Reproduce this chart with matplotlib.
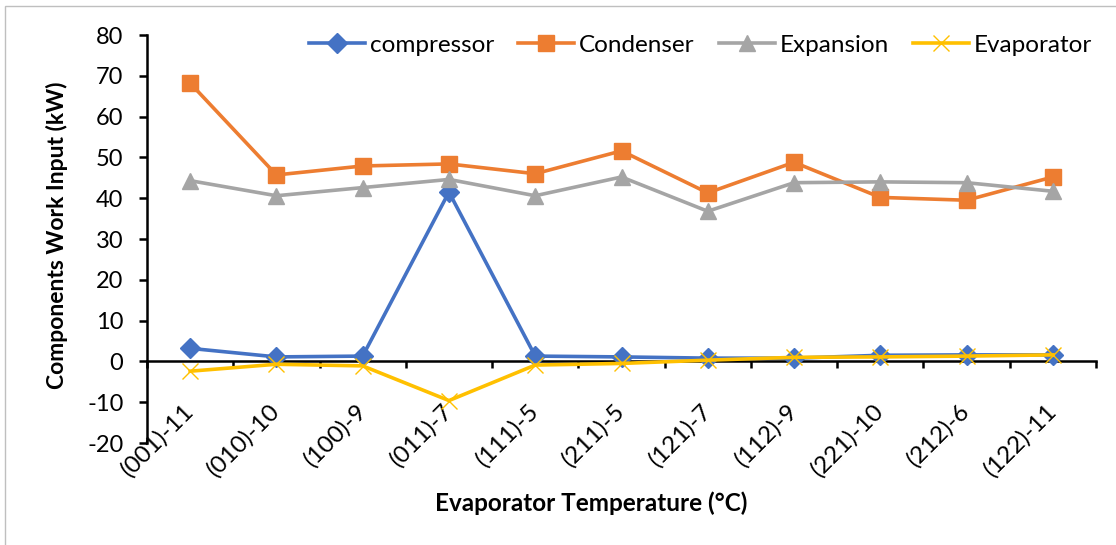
import matplotlib
matplotlib.use("Agg")
import matplotlib.pyplot as plt
import matplotlib.transforms as mtransforms
from matplotlib.patches import Rectangle

plt.rcParams['font.family'] = ['Lato', 'DejaVu Sans']
plt.rcParams['axes.unicode_minus'] = False

categories = ["(001)-11", "(010)-10", "(100)-9", "(011)-7", "(111)-5", "(211)-5",
              "(121)-7", "(112)-9", "(221)-10", "(212)-6", "(122)-11"]
compressor = [3.2, 1.1, 1.3, 41.5, 1.3, 1.1, 0.8, 0.8, 1.5, 1.6, 1.6]
condenser = [68.2, 45.7, 47.9, 48.4, 46.0, 51.6, 41.3, 48.8, 40.2, 39.5, 45.2]
expansion = [44.3, 40.6, 42.6, 44.6, 40.6, 45.2, 36.8, 43.8, 44.0, 43.8, 41.7]
evaporator = [-2.4, -0.7, -1.1, -9.6, -0.9, -0.5, 0.3, 1.0, 1.1, 1.3, 1.6]
y_ticks = [-20, -10, 0, 10, 20, 30, 40, 50, 60, 70, 80]

W, H = 1116, 545
L, R, T, B = 147, 1096, 35, 443
fig = plt.figure(figsize=(W / 100, H / 100), dpi=100)
ax = fig.add_axes([L / W, 1 - B / H, (R - L) / W, (B - T) / H])


def ax_x(px):
    return (px - L) / (R - L)


def ax_y(py):
    return (B - py) / (B - T)


# thin grey frame around the chart area
fig.patches.append(Rectangle((5 / W, -0.1), 1.2, 1 - 6 / H + 0.1, transform=fig.transFigure,
                             fill=False, edgecolor='#BFBFBF', linewidth=1.0))

x = range(len(categories))
series = [
    ("compressor", compressor, '#4472C4', dict(marker='D', markersize=10)),
    ("Condenser", condenser, '#ED7D31', dict(marker='s', markersize=11.5)),
    ("Expansion", expansion, '#A5A5A5', dict(marker='^', markersize=12)),
    ("Evaporator", evaporator, '#FFC000', dict(marker='x', markersize=11.5, markeredgewidth=1.0)),
]
for name, vals, color, mk in series:
    ax.plot(x, vals, color=color, linewidth=2.6, label=name, markerfacecolor=color,
            markeredgecolor=color, zorder=3, **mk)

ax.set_xlim(-0.5, len(categories) - 0.5)
ax.set_ylim(-20, 80)
ax.set_yticks(y_ticks)

for side in ('top', 'right'):
    ax.spines[side].set_visible(False)
ax.spines['bottom'].set_position(('data', 0))
ax.spines['bottom'].set_linewidth(1.8)
ax.spines['left'].set_linewidth(1.8)
ax.spines['bottom'].set_zorder(2)

# category boundaries carry the tick marks, category centres carry the labels
ax.set_xticks([i + 0.5 for i in range(-1, len(categories))], minor=False)
ax.set_xticklabels([])
ax.set_xticks(list(x), minor=True)
ax.set_xticklabels(categories, minor=True, rotation=45, ha='right', va='center',
                   rotation_mode='anchor', fontsize=17.5)
ax.tick_params(axis='x', which='major', direction='out', length=5, width=1.8)
ax.tick_params(axis='x', which='minor', length=0, pad=33)
ax.tick_params(axis='y', direction='out', length=6, width=1.8, labelsize=17, pad=11)

offset = mtransforms.ScaledTranslation(0, 0, fig.dpi_scale_trans)
for lbl in ax.get_xticklabels(minor=True):
    lbl.set_transform(lbl.get_transform() + offset)

ax.set_xlabel("Evaporator Temperature (°C)", fontsize=17.5, fontweight='bold')
ax.xaxis.set_label_coords(ax_x(591), ax_y(503))
ax.xaxis.label.set_va('center')
ax.set_ylabel("Components Work Input (kW)", fontsize=16.5, fontweight='bold')
ax.yaxis.set_label_coords(ax_x(57), ax_y(235))
ax.yaxis.label.set_va('center')

ax.legend(loc='center right', bbox_to_anchor=(ax_x(1092), ax_y(45)),
          ncol=4, frameon=False, fontsize=17.5, handlelength=2.3, columnspacing=1.0,
          handletextpad=0.2, borderaxespad=0, borderpad=0)

fig.savefig("out.png", dpi=100)
